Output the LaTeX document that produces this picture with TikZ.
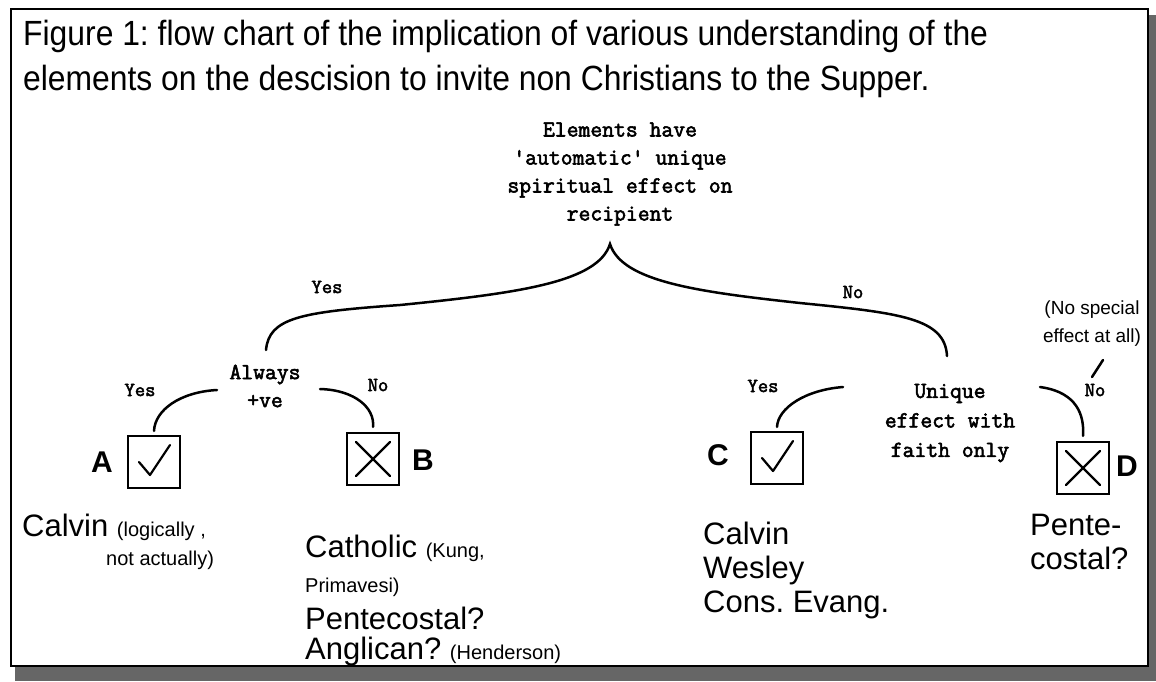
\documentclass[tikz,border=0pt]{standalone}
\usepackage{fontspec}
\setmainfont{Liberation Sans}
\newfontfamily\ttl{Liberation Sans}[FakeStretch=0.91]
\newfontfamily\twfont{Latin Modern Mono}[FakeBold=2.5]
\frenchspacing
\begin{document}
\begin{tikzpicture}[x=1pt,y=-1pt,
  tw/.style={font=\twfont\fontsize{23}{28}\selectfont,align=center,inner sep=0pt},
  yn/.style={font=\twfont\fontsize{20}{22}\selectfont,inner sep=0pt},
  big/.style={font=\fontsize{31}{35}\selectfont,inner sep=0pt,anchor=base west},
  sm/.style={font=\fontsize{20}{24}\selectfont,inner sep=0pt,anchor=base west},
  title/.style={font=\ttl\fontsize{35}{40}\selectfont,inner sep=0pt,anchor=base west},
  letter/.style={font=\bfseries\fontsize{30}{34}\selectfont,inner sep=0pt},
  box/.style={draw,line width=2.2pt,minimum size=52pt,inner sep=0pt},
  conn/.style={line width=2.5pt,line cap=round},
  tick/.style={line width=2.2pt,line cap=round,line join=round}
]
\useasboundingbox (0,0) rectangle (1156,681);
% frame with shadow
\fill[black!60] (1149,15) rectangle (1156,681);
\fill[black!60] (15,667) rectangle (1156,681);
\draw[line width=2pt,fill=white] (11,9) rectangle (1148,666);

% title
\node[title] (t1) at (23,45) {Figure 1: flow chart of the implication of various understanding of the};
\node[title] (t2) at (23,90) {elements on the descision to invite non Christians to the Supper.};

% top question
\node[tw] (top) at (620,174) {Elements have\\'automatic' unique\\spiritual effect on\\recipient};

% second-level questions
\node[tw] (always) at (265,386) {Always\\+ve};
\node[tw,font=\twfont\fontsize{23}{29.5}\selectfont] (unique) at (950,423) {Unique\\effect with\\faith only};

% main brace
\coordinate (bl) at (266,350);
\coordinate (peak) at (610,244);
\coordinate (br) at (947,356);
\draw[conn] (bl) .. controls (269,318) and (300,312) .. (400,305)
  .. controls (520,293) and (598,282) .. (peak)
  .. controls (622,282) and (700,292) .. (800,303)
  .. controls (900,313) and (945,318) .. (br);
\node[yn] (yes1) at (327,287) {Yes};
\node[yn] (no1) at (853,292) {No};

% boxes
\node[box] (boxA) at (154,462) {};
\node[box] (boxB) at (373,459) {};
\node[box] (boxC) at (777,458) {};
\node[box] (boxD) at (1083,468) {};
\draw[tick] ([shift={(-15,0)}]boxA.center) -- ([shift={(-4,13)}]boxA.center) -- ([shift={(16,-17)}]boxA.center);
\draw[tick] ([shift={(-15,0)}]boxC.center) -- ([shift={(-4,13)}]boxC.center) -- ([shift={(16,-17)}]boxC.center);
\draw[tick] ([shift={(-17,-17)}]boxB.center) -- ([shift={(17,17)}]boxB.center);
\draw[tick] ([shift={(-17,17)}]boxB.center) -- ([shift={(17,-17)}]boxB.center);
\draw[tick] ([shift={(-17,-17)}]boxD.center) -- ([shift={(17,17)}]boxD.center);
\draw[tick] ([shift={(-17,17)}]boxD.center) -- ([shift={(17,-17)}]boxD.center);
\node[letter] (la) at (102,462) {A};
\node[letter] (lb) at (423,460) {B};
\node[letter] (lc) at (718,455) {C};
\node[letter] (ld) at (1127,466) {D};

% sub connectors
\coordinate (sa) at (217,390);
\coordinate (sb) at (320,389);
\coordinate (sc) at (843,387);
\coordinate (sd) at (1040,387);
\draw[conn] (sa) .. controls (180,392) and (155,410) .. ([yshift=4pt]boxA.north);
\draw[conn] (sb) .. controls (355,390) and (375,408) .. ([yshift=5pt]boxB.north);
\draw[conn] (sc) .. controls (805,390) and (778,408) .. ([yshift=4pt]boxC.north);
\draw[conn] (sd) .. controls (1070,391) and (1085,408) .. ([yshift=5pt]boxD.north);
\node[yn] (yes2) at (140,390) {Yes};
\node[yn] (no2) at (378,385) {No};
\node[yn] (yes3) at (763,386) {Yes};
\node[yn] (no3) at (1095,390) {No};

% no special effect note
\node[font=\fontsize{19}{28}\selectfont,align=center,inner sep=0pt] (nse) at (1092,324) {(No special\\effect at all)};
\coordinate (s1) at (1103,360);
\coordinate (s2) at (1092,377);
\draw[conn] (s1) -- (s2);

% outcomes
\node[big] (calA) at (22,536) {Calvin {\fontsize{20}{24}\selectfont (logically ,}};
\node[sm] (calA2) at (106,565) {not actually)};
\node[big] (catB) at (305,557) {Catholic {\fontsize{20}{24}\selectfont (Kung,}};
\node[sm] (catB2) at (305,592) {Primavesi)};
\node[big] (catB3) at (305,629) {Pentecostal?};
\node[big] (catB4) at (305,659) {Anglican? {\fontsize{20}{24}\selectfont (Henderson)}};
\node[big] (calC) at (703,544) {Calvin};
\node[big] (calC2) at (703,578) {Wesley};
\node[big] (calC3) at (703,612) {Cons. Evang.};
\node[big] (penD) at (1030,535) {Pente-};
\node[big] (penD2) at (1030,569) {costal?};
\end{tikzpicture}
\end{document}
